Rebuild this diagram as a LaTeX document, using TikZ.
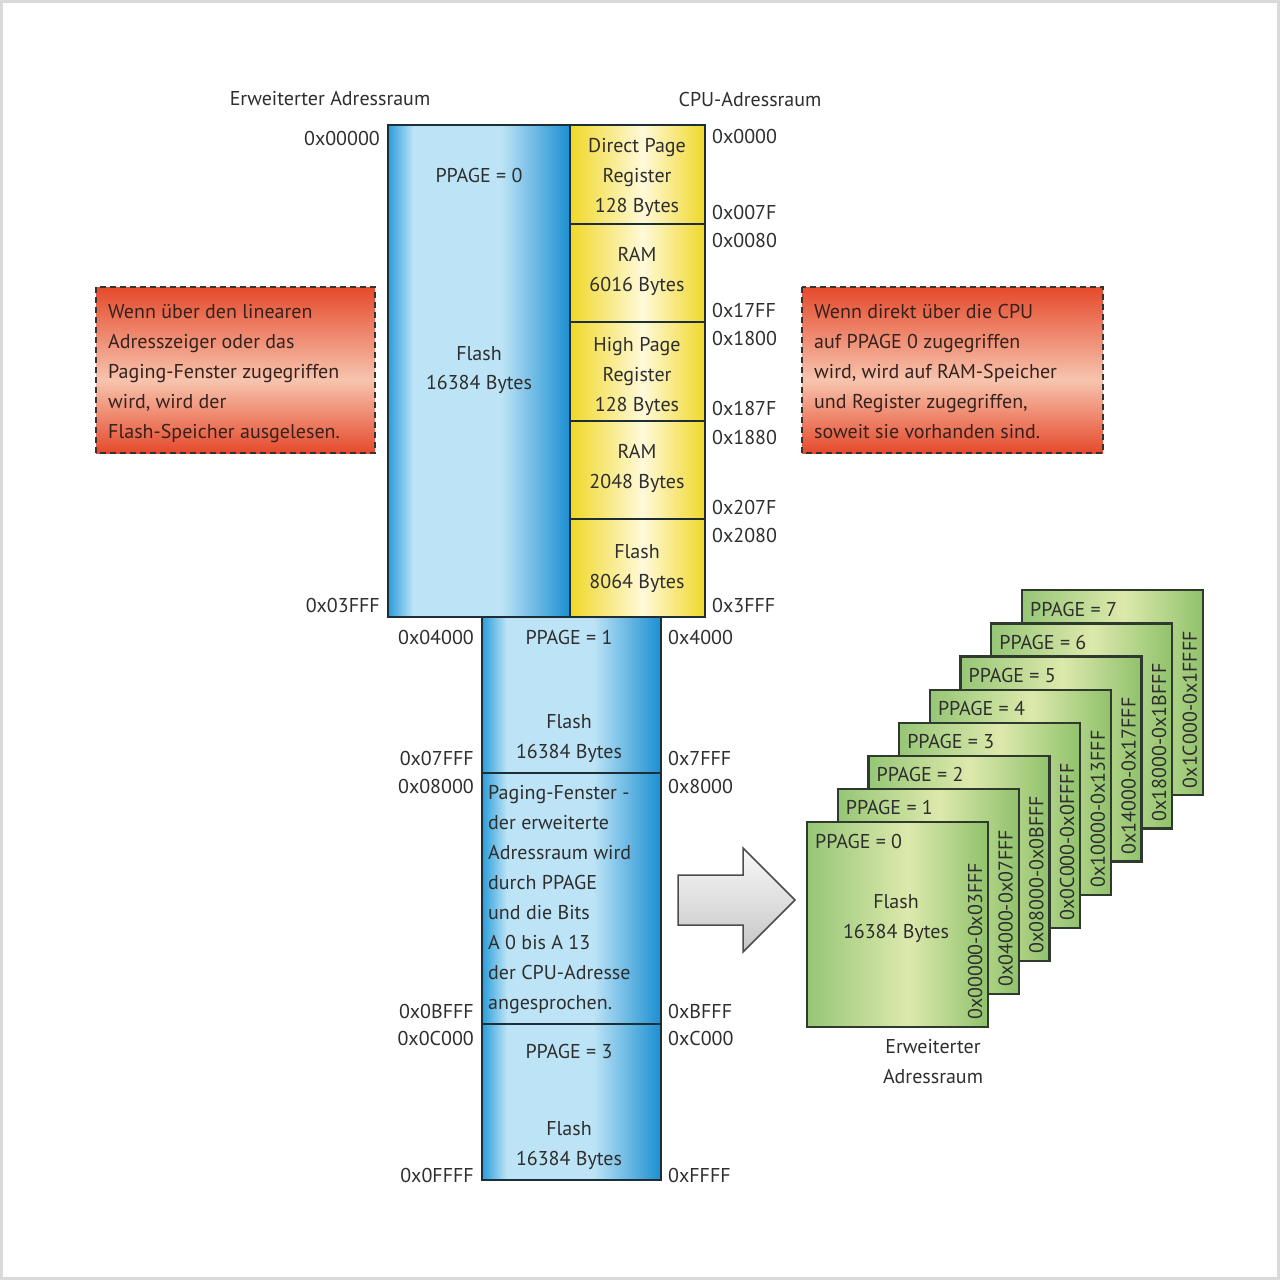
\documentclass[tikz,border=0pt]{standalone}
\usepackage{fontspec}
\setmainfont{PT Sans}
\definecolor{txt}{HTML}{2E2E2E}
\definecolor{rtxt}{HTML}{35221E}
\definecolor{bL}{HTML}{2A9DDA}
\definecolor{bC}{HTML}{BDE4F6}
\definecolor{bR}{HTML}{1B8FD2}
\definecolor{yE}{HTML}{F0D828}
\definecolor{yC}{HTML}{FFF9DA}
\definecolor{gL}{HTML}{96C676}
\definecolor{gC}{HTML}{DDE9AC}
\definecolor{gR}{HTML}{90C26C}
\definecolor{rE}{HTML}{E54A2C}
\definecolor{rC}{HTML}{F7C4AE}
\definecolor{edge}{HTML}{1E2E36}
\definecolor{gedge}{HTML}{2E3A2E}
\definecolor{frame}{HTML}{D9D9D9}
\pgfdeclarehorizontalshading{blueshade}{100bp}{color(0bp)=(bL); color(25bp)=(bL); color(32bp)=(bC); color(56bp)=(bC); color(75bp)=(bR); color(100bp)=(bR)}
\pgfdeclarehorizontalshading{yellowshade}{100bp}{color(0bp)=(yE); color(25bp)=(yE); color(52bp)=(yC); color(75bp)=(yE); color(100bp)=(yE)}
\pgfdeclarehorizontalshading{greenshade}{100bp}{color(0bp)=(gL); color(25bp)=(gL); color(53bp)=(gC); color(75bp)=(gR); color(100bp)=(gR)}
\pgfdeclareverticalshading{redshade}{100bp}{color(0bp)=(rE); color(25bp)=(rE); color(47bp)=(rC); color(75bp)=(rE); color(100bp)=(rE)}
\tikzset{
  lbl/.style={font=\fontsize{20}{30}\selectfont, text=txt, inner sep=0pt},
  note/.style={lbl, text=rtxt, align=left, anchor=west},
  bluebox/.style={shading=blueshade, draw=edge, line width=2.2},
  yellowbox/.style={shading=yellowshade, draw=edge, line width=2.2},
  greencard/.style={shading=greenshade, draw=gedge, line width=2.2},
  redbox/.style={shading=redshade, draw=black!80, line width=2.6, dash pattern=on 6pt off 4pt},
}
\begin{document}
\begin{tikzpicture}[x=1pt,y=-1pt]
\useasboundingbox (0,0) rectangle (1280,1280);
\draw[frame, line width=3] (1.5,1.5) rectangle (1278.5,1278.5);

% headers
\node[lbl] (h1) at (330,99) {Erweiterter Adressraum};
\node[lbl] (h2) at (750,99) {CPU-Adressraum};

% big blue box PPAGE 0
\shade[bluebox] (388,125) rectangle (570,617);
\node[lbl] (p0) at (479,175) {PPAGE = 0};
\node[lbl] (p0a) at (479,354) {Flash};
\node[lbl] (p0b) at (479,384) {16384 Bytes};

% yellow column
\shade[yellowbox] (570,125) rectangle (705,224);
\shade[yellowbox] (570,224) rectangle (705,322);
\shade[yellowbox] (570,322) rectangle (705,421);
\shade[yellowbox] (570,421) rectangle (705,519);
\shade[yellowbox] (570,519) rectangle (705,617);
\node[lbl, align=center] (y1) at (637,177) {Direct Page\\Register\\128 Bytes};
\node[lbl, align=center] (y2) at (637,271) {RAM\\6016 Bytes};
\node[lbl, align=center] (y3) at (637,376) {High Page\\Register\\128 Bytes};
\node[lbl, align=center] (y4) at (637,468) {RAM\\2048 Bytes};
\node[lbl, align=center] (y5) at (637,569) {Flash\\8064 Bytes};

% addresses around top block
\node[lbl, anchor=east] (la1) at (380,138) {0x00000};
\node[lbl, anchor=east] (la2) at (380,605) {0x03FFF};
\foreach \yy/\t [count=\i] in {136/0x0000, 212/0x007F, 240/0x0080, 310/0x17FF, 338/0x1800, 408/0x187F, 437/0x1880, 507/0x207F, 535/0x2080, 605/0x3FFF}
  \node[lbl, anchor=west] (ra\i) at (712,\yy) {\t};

% lower blue column
\shade[bluebox] (482,617) rectangle (661,773);
\shade[bluebox] (482,773) rectangle (661,1024);
\shade[bluebox] (482,1024) rectangle (661,1180);
\node[lbl] (p1) at (569,637) {PPAGE = 1};
\node[lbl, align=center] (p1a) at (569,739) {Flash\\16384 Bytes};
\node[lbl, align=left, anchor=west] (pw) at (488,900) {Paging-Fenster -\\der erweiterte\\Adressraum wird\\durch PPAGE\\und die Bits\\A 0 bis A 13\\der CPU-Adresse\\angesprochen.};
\node[lbl] (p3) at (569,1051) {PPAGE = 3};
\node[lbl, align=center] (p3a) at (569,1146) {Flash\\16384 Bytes};
\foreach \yy/\t [count=\i] in {637/0x04000, 758/0x07FFF, 786/0x08000, 1011/0x0BFFF, 1038/0x0C000, 1175/0x0FFFF}
  \node[lbl, anchor=east] (lb\i) at (474,\yy) {\t};
\foreach \yy/\t [count=\i] in {637/0x4000, 758/0x7FFF, 786/0x8000, 1011/0xBFFF, 1038/0xC000, 1175/0xFFFF}
  \node[lbl, anchor=west] (rb\i) at (668,\yy) {\t};

% red notes
\shade[redbox] (96,287) rectangle (375,453);
\node[note] (n1) at (108,374) {Wenn über den linearen\\Adresszeiger oder das\\Paging-Fenster zugegriffen\\wird, wird der\\Flash-Speicher ausgelesen.};
\shade[redbox] (802,287) rectangle (1103,453);
\node[note] (n2) at (814,371) {Wenn direkt über die CPU\\auf PPAGE 0 zugegriffen\\wird, wird auf RAM-Speicher\\und Register zugegriffen,\\soweit sie vorhanden sind.};

% block arrow
\shade[draw=black!70, line width=1.5, top color=white!95!gray, bottom color=gray!45]
  (678,875) -- (743,875) -- (743,848) -- (795,900) -- (743,952) -- (743,925) -- (678,925) -- cycle;

% green stack
\foreach \k/\a/\b in {7/1C000/1FFFF, 6/18000/1BFFF, 5/14000/17FFF, 4/10000/13FFF, 3/0C000/0FFFF, 2/08000/0BFFF, 1/04000/07FFF, 0/00000/03FFF}{
  \pgfmathsetmacro{\xa}{807+30.7*\k}
  \pgfmathsetmacro{\ya}{822-33.1*\k}
  \shade[greencard] (\xa,\ya) rectangle ++(181,205);
  \node[lbl, anchor=west] (g\k) at (\xa+8,\ya+19) {PPAGE = \k};
  \node[lbl, anchor=west, rotate=90] (gr\k) at (\xa+168,\ya+198) {0x\a-0x\b};
}
\node[lbl, align=center] (gf) at (896,919) {Flash\\16384 Bytes};
\node[lbl, align=center] (gl) at (933,1062) {Erweiterter\\Adressraum};
\end{tikzpicture}
\end{document}
